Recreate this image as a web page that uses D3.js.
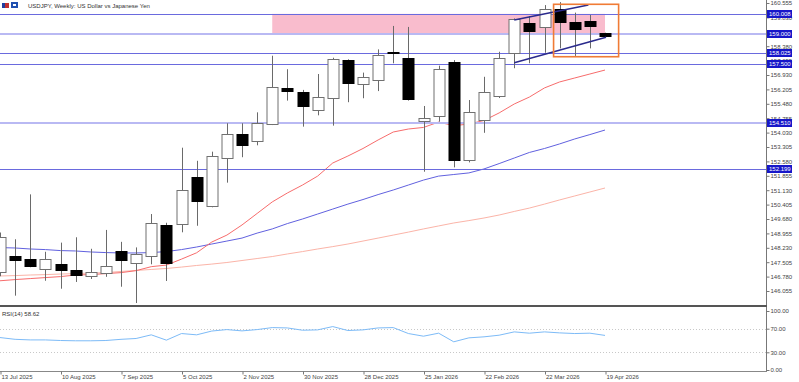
<!DOCTYPE html>
<html><head><meta charset="utf-8">
<script src="https://cdn.jsdelivr.net/npm/d3@7"></script>
<style>body{margin:0;background:#fff}svg{display:block}text{font-family:"Liberation Sans",Arial,sans-serif}</style>
</head><body><svg id="c" width="799" height="382"></svg>
<script>
// ---------- data ----------
const xLabels = ["13 Jul 2025","10 Aug 2025","7 Sep 2025","5 Oct 2025","2 Nov 2025","30 Nov 2025","28 Dec 2025","25 Jan 2026","22 Feb 2026","22 Mar 2026","19 Apr 2026"];
const xLabelIdx = [0,4,8,12,16,20,24,28,32,36,40];
const opens  = [147.02,147.81,147.66,147.14,147.41,147.11,146.79,146.97,148.08,147.45,147.82,149.37,149.41,151.81,150.33,152.74,153.94,153.62,154.48,156.26,156.06,155.15,155.76,157.68,156.49,156.68,158.08,157.80,154.63,154.88,157.57,152.65,154.66,155.89,158.02,159.53,159.33,160.24,159.58,159.65,159.03];
const highs  = [149.00,148.66,150.92,148.03,148.49,148.76,148.18,149.13,148.53,148.25,149.93,149.49,153.27,152.61,153.07,154.50,154.50,155.05,157.90,157.22,156.18,156.98,157.80,157.72,157.05,158.22,159.40,159.35,155.37,157.40,157.68,155.67,156.84,158.10,159.78,159.90,160.45,160.60,160.07,159.95,159.06];
const lows   = [146.80,145.82,147.25,146.57,146.17,146.51,146.66,146.77,146.27,145.45,147.40,146.56,149.01,149.34,150.27,151.51,152.79,153.39,154.41,155.64,154.33,154.90,154.38,155.56,155.76,156.12,157.52,155.64,152.06,154.58,152.28,152.53,154.02,155.77,157.27,157.52,158.05,158.27,157.89,158.27,158.88];
const closes = [148.79,147.61,147.31,147.65,147.11,146.84,146.99,147.33,147.63,147.92,149.49,147.45,151.14,150.59,152.85,153.96,153.42,154.50,156.31,156.12,155.35,155.84,157.72,156.51,156.84,157.94,158.06,155.70,154.75,157.22,152.65,155.05,156.06,157.77,159.73,159.16,160.24,159.58,159.25,159.40,158.91];
const maFast = [146.57,146.63,146.68,146.73,146.78,146.86,146.88,146.93,146.98,147.08,147.28,147.36,147.66,147.98,148.52,148.87,149.38,149.96,150.54,150.99,151.39,151.84,152.50,152.85,153.23,153.66,154.06,154.21,154.29,154.56,154.38,154.46,154.64,155.02,155.47,155.82,156.28,156.58,156.78,156.98,157.18];
const maMid  = [148.24,148.22,148.17,148.14,148.09,148.07,148.02,147.99,147.97,147.97,147.99,148.04,148.14,148.27,148.42,148.57,148.72,148.97,149.18,149.45,149.68,149.93,150.18,150.43,150.66,150.91,151.14,151.39,151.64,151.84,151.92,152.00,152.20,152.47,152.75,153.03,153.23,153.46,153.71,153.93,154.16];
const maSlow = [146.81,146.83,146.86,146.88,146.91,146.93,146.96,146.98,147.04,147.09,147.14,147.19,147.26,147.34,147.41,147.49,147.59,147.69,147.79,147.92,148.04,148.17,148.29,148.42,148.57,148.72,148.87,149.02,149.18,149.33,149.48,149.60,149.73,149.88,150.06,150.23,150.43,150.64,150.84,151.04,151.24];
const rsi = [55,52,51,51,50,49.5,49.5,50,52,53.4,59.6,50.6,61.8,59.6,66,68.5,66.3,68.5,71.9,71.3,67.4,68,73.6,66.9,68,71.3,71.9,61.8,57.3,62.4,47.8,54.5,56.2,59,64.6,62.4,64.6,62.9,61.8,62.4,58.62];
const yTicks = [160.555,159.830,159.105,158.380,157.655,156.930,156.205,155.480,154.755,154.030,153.305,152.580,151.855,151.130,150.405,149.680,148.955,148.230,147.505,146.780,146.055];
const levels = [160.008,159.000,158.025,157.500,154.510,152.199];
const rsiTicks = [100,70,30,0];
const zonePrices = [159.000,160.008];
const zoneIdx = [18,40];
const boxPrices = [157.85,160.49];
const boxIdx = [36.6,40.9];
const trendUpper = [[34,159.70],[38.9,160.45]];
const trendLower = [[34,157.55],[40.07,158.83]];

// ---------- layout ----------
const svg = d3.select("#c");
const axisX = 766;
const x = d3.scaleLinear().domain([0,40]).range([0,605]);
const y = d3.scaleLinear().domain([146.055,160.555]).range([291,3]);
const yr = d3.scaleLinear().domain([0,100]).range([370,311]);
const thick = new Set([159.000,154.510]);

svg.append("defs").append("clipPath").attr("id","mainClip")
  .append("rect").attr("x",0).attr("y",0).attr("width",axisX).attr("height",305);
const main = svg.append("g").attr("clip-path","url(#mainClip)");

// zone
main.append("rect")
  .attr("x",x(zoneIdx[0])).attr("width",x(zoneIdx[1])-x(zoneIdx[0]))
  .attr("y",y(zonePrices[1])).attr("height",y(zonePrices[0])-y(zonePrices[1]))
  .attr("fill","#f9bccd");

// MAs
const line = arr => d3.line().x((d,i)=>x(i)).y(d=>y(d))(arr);
main.append("path").attr("d",line(maSlow)).attr("fill","none").attr("stroke","#fbb4a8").attr("stroke-width",1);
main.append("path").attr("d",line(maMid)).attr("fill","none").attr("stroke","#6161df").attr("stroke-width",1);
main.append("path").attr("d",line(maFast)).attr("fill","none").attr("stroke","#f76c6c").attr("stroke-width",1);

// horizontal levels
levels.forEach(l=>{
  const yy = Math.round(y(l)) + (thick.has(l)?0:0.5);
  main.append("line").attr("x1",0).attr("x2",axisX).attr("y1",yy).attr("y2",yy)
    .attr("stroke",thick.has(l)?"#b9b9f3":"#6a6ade").attr("stroke-width",thick.has(l)?2:1);
});

// candles
const bw = (x(1)-x(0))*0.7;
const idx = d3.range(opens.length);
idx.forEach(i=>{
  const cx = Math.round(x(i))+0.5;
  const bull = closes[i] >= opens[i];
  main.append("line").attr("x1",cx).attr("x2",cx).attr("y1",y(highs[i])).attr("y2",y(lows[i]))
    .attr("stroke","#6a6a6a").attr("stroke-width",1);
  const top = Math.round(y(Math.max(opens[i],closes[i])))+0.5;
  const bot = Math.round(y(Math.min(opens[i],closes[i])))+0.5;
  main.append("rect").attr("x",Math.round(cx-bw/2)).attr("width",Math.round(bw))
    .attr("y",top).attr("height",Math.max(1,bot-top))
    .attr("fill",bull?"#fff":"#000").attr("stroke",bull?"#707070":"#000").attr("stroke-width",1);
});

// trendlines
[trendUpper,trendLower].forEach(t=>{
  main.append("line").attr("x1",x(t[0][0])).attr("y1",y(t[0][1])).attr("x2",x(t[1][0])).attr("y2",y(t[1][1]))
    .attr("stroke","#2a2a8c").attr("stroke-width",1.5);
});

// orange box
main.append("rect").attr("x",x(boxIdx[0])).attr("width",x(boxIdx[1])-x(boxIdx[0]))
  .attr("y",y(boxPrices[1])).attr("height",y(boxPrices[0])-y(boxPrices[1]))
  .attr("fill","none").attr("stroke","#f07b35").attr("stroke-width",1.6);

// title
svg.append("rect").attr("x",2).attr("y",3).attr("width",7).attr("height",5).attr("fill","#c03030");
svg.append("rect").attr("x",2).attr("y",3).attr("width",3).attr("height",5).attr("fill","#2040a0");
svg.append("rect").attr("x",11).attr("y",2).attr("width",7).attr("height",6).attr("fill","#2050b0");
svg.append("rect").attr("x",13).attr("y",4).attr("width",3).attr("height",2).attr("fill","#fff");
svg.append("text").attr("x",28).attr("y",8).attr("font-size",6).attr("fill","#333")
  .text("USDJPY, Weekly:  US Dollar vs Japanese Yen");

// right axis main (labels fully hidden under a level box are not shown, as in the reference)
const hidden = d => levels.some(l => Math.abs(y(l)-y(d)) < 2.5);
const ay = svg.append("g").attr("transform",`translate(${axisX+0.5},0)`)
  .call(d3.axisRight(y).tickValues(yTicks).tickSize(3).tickPadding(1).tickFormat(d => hidden(d) ? "" : d3.format(".3f")(d)));
ay.select(".domain").remove();
ay.selectAll("line").attr("stroke","#777");
ay.selectAll("text").attr("font-size",6).attr("fill","#444").attr("font-family","Liberation Sans, Arial, sans-serif");

// level labels
levels.forEach(l=>{
  const yy = y(l);
  const g = svg.append("g");
  g.append("rect").attr("x",axisX+1).attr("y",Math.round(yy)-4).attr("width",25).attr("height",8).attr("fill","#1717c9");
  g.append("text").attr("x",axisX+3).attr("y",yy).attr("dy","0.35em").attr("font-size",6).attr("fill","#fff").text(d3.format(".3f")(l));
});

// panels borders
svg.append("line").attr("x1",axisX+0.5).attr("x2",axisX+0.5).attr("y1",0).attr("y2",372).attr("stroke","#777");
svg.append("line").attr("x1",0).attr("x2",axisX+1).attr("y1",306).attr("y2",306).attr("stroke","#555").attr("stroke-width",2);
svg.append("line").attr("x1",0).attr("x2",axisX+1).attr("y1",371.5).attr("y2",371.5).attr("stroke","#888").attr("stroke-width",1);

// RSI panel
[70,30].forEach(v=>{
  svg.append("line").attr("x1",0).attr("x2",axisX).attr("y1",Math.round(yr(v))+0.5).attr("y2",Math.round(yr(v))+0.5)
    .attr("stroke","#c8c8c8").attr("stroke-dasharray","1,2");
});
svg.append("path").attr("d",d3.line().x((d,i)=>x(i)).y(d=>yr(d))(rsi))
  .attr("fill","none").attr("stroke","#7dbbf7").attr("stroke-width",1);
svg.append("text").attr("x",2).attr("y",316).attr("font-size",6).attr("fill","#333")
  .text("RSI(14) " + rsi[rsi.length-1].toFixed(2));
const ar = svg.append("g").attr("transform",`translate(${axisX+0.5},0)`)
  .call(d3.axisRight(yr).tickValues(rsiTicks).tickSize(3).tickPadding(1).tickFormat(d3.format(".2f")));
ar.select(".domain").remove();
ar.selectAll("line").attr("stroke","#777");
ar.selectAll("text").attr("font-size",6).attr("fill","#444").attr("font-family","Liberation Sans, Arial, sans-serif");

// x axis
const ax = svg.append("g").attr("transform","translate(0,371.5)")
  .call(d3.axisBottom(x).tickValues(xLabelIdx).tickSize(3).tickFormat((d,i)=>xLabels[i]));
ax.select(".domain").remove();
ax.selectAll("line").attr("stroke","#777").attr("transform","translate(0.5,0)");
ax.selectAll("text").attr("font-size",6).attr("fill","#444").attr("text-anchor","start")
  .attr("x",1).attr("y",3).attr("font-family","Liberation Sans, Arial, sans-serif");
</script></body></html>
